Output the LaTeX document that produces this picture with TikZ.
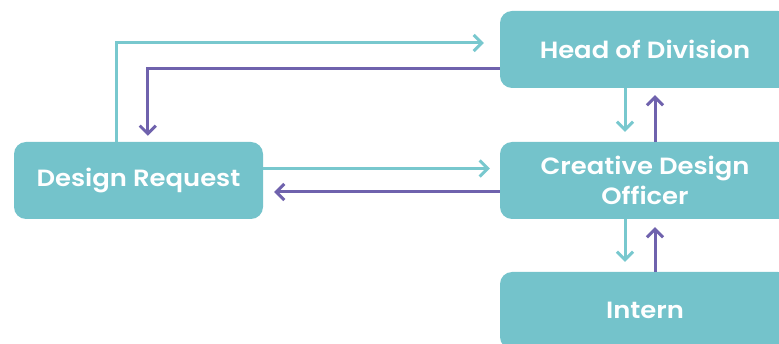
\documentclass[tikz,border=0pt]{standalone}
\usepackage{fontspec}
\setmainfont{Poppins}[BoldFont={* SemiBold}, FakeStretch=1.1]
\usetikzlibrary{arrows.meta}
\definecolor{boxteal}{HTML}{74C3CB}
\definecolor{lineteal}{HTML}{78C8CE}
\definecolor{linepurple}{HTML}{6F62AD}
\tikzset{
  box/.style={draw=none, fill=boxteal, rounded corners=12pt, text=white,
    font=\bfseries\fontsize{23.5}{30}\selectfont, align=center, inner sep=0pt},
  tl/.style={draw=lineteal, line width=3pt, -{Straight Barb[length=8pt,width=16pt]}},
  pl/.style={draw=linepurple, line width=3pt, -{Straight Barb[length=8pt,width=16pt]}}
}
\begin{document}
\begin{tikzpicture}[x=1pt,y=-1pt]
\useasboundingbox (0,0) rectangle (779,344);
\node[box, minimum width=249pt, minimum height=77pt] (dr) at (138.5,180.5) {Design Request};
\node[box, minimum width=290pt, minimum height=77pt] (hod) at (645,49.5) {Head of Division};
\node[box, minimum width=290pt, minimum height=77pt] (cdo) at (645,180.5) {Creative Design\\Officer};
\node[box, minimum width=290pt, minimum height=77pt] (int) at (645,310.5) {Intern};
% DR -> HoD
\draw[tl, shorten >=16pt] ([xshift=103pt]dr.north west) |- ([yshift=6.5pt]hod.west);
% HoD -> DR
\draw[pl, shorten >=6pt] ([yshift=-19.5pt]hod.west) -| ([xshift=134pt]dr.north west);
% DR -> CDO
\draw[tl, shorten >=10pt] ([yshift=12pt]dr.east) -- ([yshift=12pt]cdo.west);
% CDO -> DR
\draw[pl, shorten >=11pt] ([yshift=-11.5pt]cdo.west) -- ([yshift=-11.5pt]dr.east);
% HoD <-> CDO
\draw[tl, shorten >=10pt] ([xshift=-20pt]hod.south) -- ([xshift=-20pt]cdo.north);
\draw[pl, shorten >=7pt] ([xshift=10pt]cdo.north) -- ([xshift=10pt]hod.south);
% CDO <-> Intern
\draw[tl, shorten >=10pt] ([xshift=-20pt]cdo.south) -- ([xshift=-20pt]int.north);
\draw[pl, shorten >=8pt] ([xshift=10pt]int.north) -- ([xshift=10pt]cdo.south);
\end{tikzpicture}
\end{document}
